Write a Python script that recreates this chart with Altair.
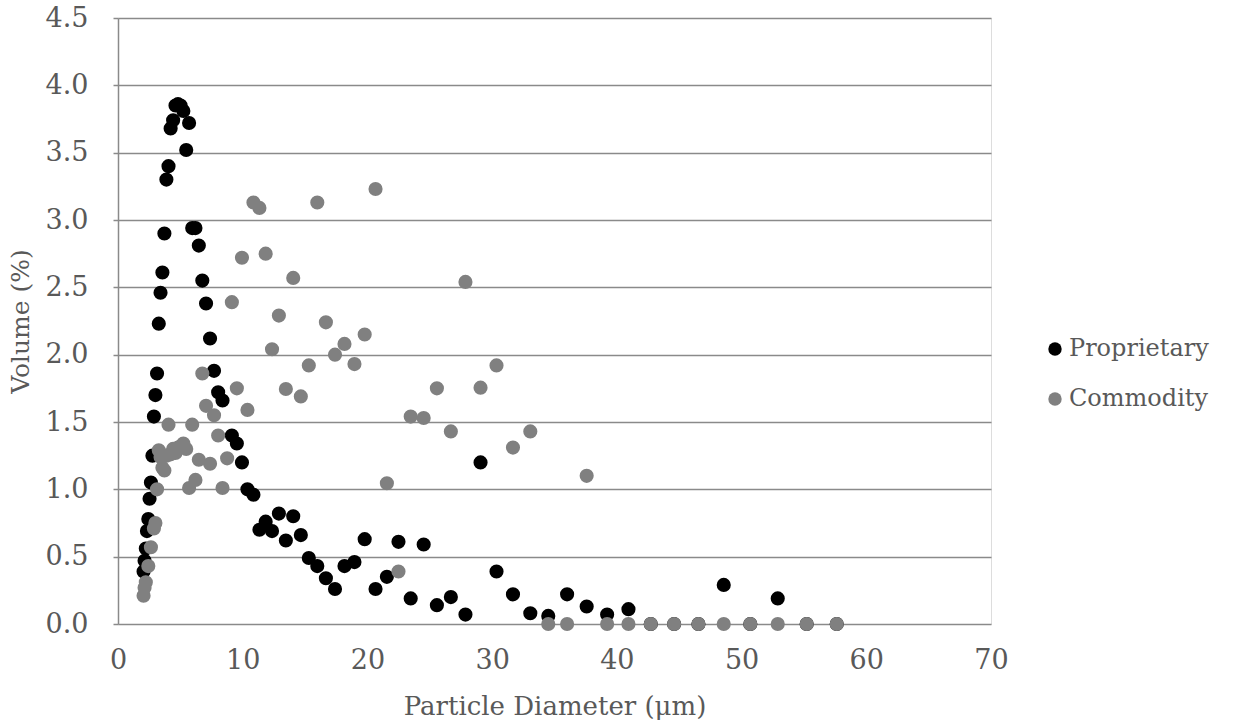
import altair as alt
import pandas as pd

# particle diameter bins (µm)
diam = [2.05, 2.13, 2.23, 2.32, 2.43, 2.53, 2.64, 2.76, 2.88, 3.00,
        3.13, 3.27, 3.41, 3.56, 3.72, 3.88, 4.05, 4.22, 4.42, 4.61,
        4.81, 5.02, 5.24, 5.47, 5.70, 5.95, 6.21, 6.48, 6.76, 7.06,
        7.38, 7.70, 8.03, 8.38, 8.75, 9.13, 9.53, 9.94, 10.38, 10.86,
        11.34, 11.84, 12.35, 12.90, 13.46, 14.05, 14.66, 15.30, 15.98, 16.67,
        17.40, 18.16, 18.96, 19.78, 20.65, 21.56, 22.49, 23.47, 24.51, 25.57,
        26.69, 27.86, 29.07, 30.35, 31.67, 33.06, 34.50, 36.01, 37.58, 39.22,
        40.93, 42.72, 44.59, 46.54, 48.57, 50.70, 52.90, 55.22, 57.63]

proprietary = [0.39, 0.47, 0.56, 0.69, 0.78, 0.93, 1.05, 1.25, 1.54, 1.70,
               1.86, 2.23, 2.46, 2.61, 2.90, 3.30, 3.40, 3.68, 3.74, 3.85,
               3.86, 3.85, 3.81, 3.52, 3.72, 2.94, 2.94, 2.81, 2.55, 2.38,
               2.12, 1.88, 1.72, 1.66, None, 1.40, 1.34, 1.20, 1.00, 0.96,
               0.70, 0.76, 0.69, 0.82, 0.62, 0.80, 0.66, 0.49, 0.43, 0.34,
               0.26, 0.43, 0.46, 0.63, 0.26, 0.35, 0.61, 0.19, 0.59, 0.14,
               0.20, 0.07, 1.20, 0.39, 0.22, 0.08, 0.06, 0.22, 0.13, 0.07,
               0.11, 0.0, 0.0, 0.0, 0.29, 0.0, 0.19, 0.0, 0.0]

commodity = [0.21, 0.27, 0.31, None, 0.43, None, 0.57, None, 0.71, 0.75,
             1.00, 1.29, 1.24, 1.16, 1.14, 1.25, 1.48, 1.26, 1.30, 1.27,
             1.31, 1.32, 1.34, 1.30, 1.01, 1.48, 1.07, 1.22, 1.86, 1.62,
             1.19, 1.55, 1.40, 1.01, 1.23, 2.39, 1.75, 2.72, 1.59, 3.13,
             3.09, 2.75, 2.04, 2.29, 1.745, 2.57, 1.69, 1.92, 3.13, 2.24,
             2.00, 2.08, 1.93, 2.15, 3.23, 1.045, 0.39, 1.54, 1.53, 1.75,
             1.43, 2.54, 1.755, 1.92, 1.31, 1.43, 0.0, 0.0, 1.10, 0.0,
             0.0, 0.0, 0.0, 0.0, 0.0, 0.0, 0.0, 0.0, 0.0]

series_names = ["Proprietary", "Commodity"]
series_colors = ["#000000", "#808080"]
x_ticks = [0, 10, 20, 30, 40, 50, 60, 70]
y_ticks = [0.0, 0.5, 1.0, 1.5, 2.0, 2.5, 3.0, 3.5, 4.0, 4.5]

rows = []
for name, vals in zip(series_names, [proprietary, commodity]):
    for d, v in zip(diam, vals):
        if v is not None:
            rows.append({"diam": d, "vol": v, "series": name})
df = pd.DataFrame(rows)

FONT = "DejaVu Serif"
TXT = "#595959"
GRID = "#8a8a8a"

chart = alt.Chart(df).mark_circle(size=200, opacity=1).encode(
    x=alt.X("diam:Q",
            scale=alt.Scale(domain=[0, 70], nice=False, zero=True),
            axis=alt.Axis(values=x_ticks, grid=False, ticks=False, domain=False,
                          title="Particle Diameter (μm)", format="d",
                          labelFlush=False,
                          labelFont=FONT, labelFontSize=27, labelColor=TXT,
                          labelPadding=23,
                          titleFont=FONT, titleFontSize=26, titleColor=TXT,
                          titleFontWeight="normal", titlePadding=20)),
    y=alt.Y("vol:Q",
            scale=alt.Scale(domain=[0, 4.5], nice=False),
            axis=alt.Axis(values=y_ticks, format=".1f", grid=True,
                          gridColor=GRID, gridWidth=1.5,
                          domain=True, domainColor=GRID, domainWidth=1.5,
                          ticks=True, tickColor=GRID, tickSize=5, tickWidth=1.5,
                          labelFlush=False,
                          title="Volume (%)",
                          labelFont=FONT, labelFontSize=27, labelColor=TXT,
                          labelPadding=25,
                          titleFont=FONT, titleFontSize=25, titleColor=TXT,
                          titleFontWeight="normal", titlePadding=12)),
    color=alt.Color("series:N",
                    scale=alt.Scale(domain=series_names, range=series_colors),
                    sort=series_names,
                    legend=alt.Legend(orient="none", legendX=925, legendY=319,
                                      title=None, labelFont=FONT, labelFontSize=24,
                                      labelColor=TXT, symbolType="circle",
                                      symbolSize=180, symbolStrokeWidth=0,
                                      labelOffset=2, rowPadding=26, padding=0)),
).properties(
    width=873, height=606,
    autosize=alt.AutoSizeParams(type="none"),
    padding={"left": 118, "top": 18, "right": 244, "bottom": 99},
).configure_view(stroke=None).configure(background="white")

chart.save("out.html", embed_options={"renderer": "svg", "actions": False})
